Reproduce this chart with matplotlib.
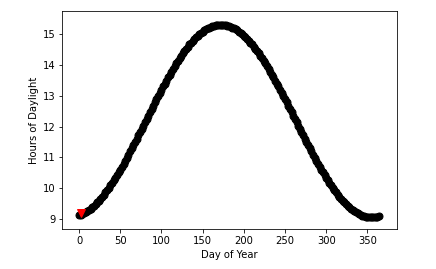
import matplotlib
matplotlib.use("Agg")
import matplotlib.pyplot as plt

days = list(range(0, 365, 2))
hours = [
    9.13, 9.14, 9.16, 9.18, 9.22, 9.25, 9.29, 9.33, 9.38, 9.43, 9.48, 9.54, 9.59, 9.66,
    9.72, 9.79, 9.86, 9.93, 10.01, 10.09, 10.17, 10.25, 10.34, 10.42, 10.51, 10.60,
    10.70, 10.79, 10.89, 10.99, 11.09, 11.19, 11.29, 11.40, 11.50, 11.61, 11.71, 11.82,
    11.92, 12.03, 12.14, 12.25, 12.35, 12.46, 12.57, 12.67, 12.78, 12.89, 12.99, 13.09,
    13.19, 13.30, 13.39, 13.49, 13.59, 13.68, 13.78, 13.87, 13.96, 14.05, 14.13, 14.21,
    14.29, 14.37, 14.45, 14.52, 14.59, 14.66, 14.72, 14.78, 14.84, 14.89, 14.94, 14.99,
    15.04, 15.08, 15.12, 15.15, 15.18, 15.21, 15.23, 15.25, 15.27, 15.28, 15.29, 15.30,
    15.30,
    15.30, 15.29, 15.28, 15.27, 15.25, 15.23, 15.21, 15.18, 15.15, 15.12, 15.08, 15.04,
    14.99, 14.94, 14.89, 14.84, 14.78, 14.72, 14.66, 14.59, 14.52, 14.45, 14.37, 14.29,
    14.21, 14.13, 14.05, 13.96, 13.87, 13.78, 13.68, 13.59, 13.49, 13.39, 13.30, 13.19,
    13.09, 12.99, 12.89, 12.78, 12.67, 12.57, 12.46, 12.35, 12.25, 12.14, 12.03, 11.92,
    11.82, 11.71, 11.61, 11.50, 11.40, 11.29, 11.19, 11.09, 10.99, 10.89, 10.79, 10.70,
    10.60, 10.51, 10.42, 10.34, 10.25, 10.17, 10.09, 10.01, 9.93, 9.86, 9.79, 9.72,
    9.66, 9.59, 9.54, 9.48, 9.43, 9.38, 9.33, 9.29, 9.25, 9.22, 9.18, 9.16, 9.13, 9.11,
    9.09, 9.08, 9.07, 9.06, 9.06, 9.06, 9.06, 9.07, 9.08, 9.10,
]
highlight_day = [2]
highlight_hours = [9.20]

n = min(len(days), len(hours))

fig = plt.figure(figsize=(436 / 72, 269 / 72), dpi=72)
ax = fig.add_axes([62.3 / 436, 1 - 229 / 269, (397.3 - 62.3) / 436, (229 - 11) / 269])
ax.plot(days[:n], hours[:n], 'o', color='black', markersize=7)
ax.plot(highlight_day, highlight_hours, 'v', color='red', markersize=8)
ax.set_xlim(-20.3, 386.3)
ax.set_ylim(8.676, 15.746)
ax.set_xlabel('Day of Year')
ax.set_ylabel('Hours of Daylight')
ax.set_xticks([0, 50, 100, 150, 200, 250, 300, 350])
ax.set_yticks([9, 10, 11, 12, 13, 14, 15])
fig.savefig('out.png', dpi=72)
